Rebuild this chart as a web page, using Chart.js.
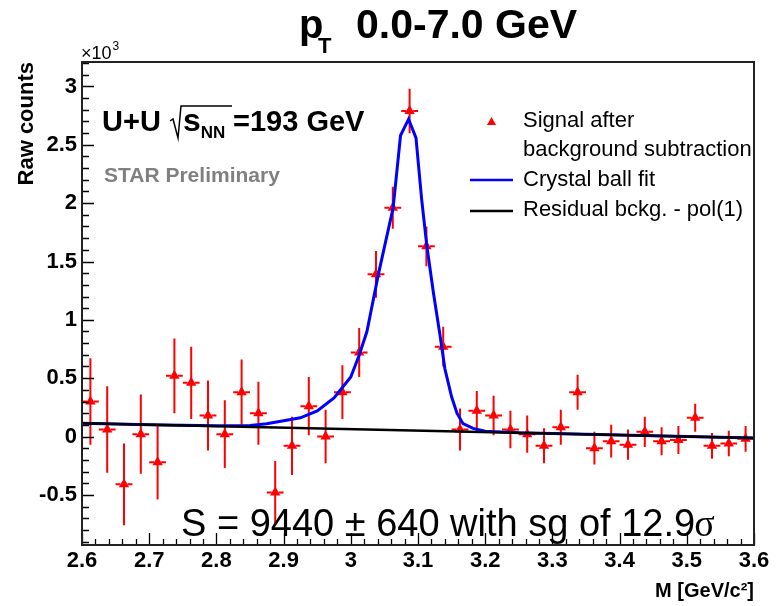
<!DOCTYPE html>
<html>
<head>
<meta charset="utf-8">
<script src="https://cdn.jsdelivr.net/npm/chart.js@4.4.1/dist/chart.umd.min.js"></script>
<style>
  html, body { margin: 0; padding: 0; background: #fff; }
  #wrap { width: 778px; height: 606px; }
</style>
</head>
<body>
<div id="wrap"><canvas id="jpsiChart" width="778" height="606"></canvas></div>
<script>
// invariant mass bin centres [GeV/c^2], bins are 0.025 wide
const massBins = [
  2.6125, 2.6375, 2.6625, 2.6875, 2.7125, 2.7375, 2.7625, 2.7875, 2.8125, 2.8375,
  2.8625, 2.8875, 2.9125, 2.9375, 2.9625, 2.9875, 3.0125, 3.0375, 3.0625, 3.0875,
  3.1125, 3.1375, 3.1625, 3.1875, 3.2125, 3.2375, 3.2625, 3.2875, 3.3125, 3.3375,
  3.3625, 3.3875, 3.4125, 3.4375, 3.4625, 3.4875, 3.5125, 3.5375, 3.5625, 3.5875
];
const binHalfWidth = 0.0125;

// signal after background subtraction (x10^3 counts)
const signalCounts = [
  0.30, 0.06, -0.41, 0.02, -0.22, 0.52, 0.46, 0.18, 0.02, 0.38,
  0.20, -0.48, -0.08, 0.26, 0.00, 0.38, 0.72, 1.39, 1.96, 2.79,
  1.63, 0.77, 0.06, 0.22, 0.18, 0.06, 0.02, -0.08, 0.08, 0.38,
  -0.10, -0.04, -0.07, 0.04, -0.04, -0.03, 0.16, -0.08, -0.06, -0.02
];
const signalErrors = [
  0.37, 0.37, 0.35, 0.34, 0.32, 0.32, 0.31, 0.30, 0.29, 0.28,
  0.27, 0.27, 0.25, 0.25, 0.23, 0.23, 0.21, 0.20, 0.18, 0.19,
  0.17, 0.17, 0.18, 0.17, 0.17, 0.16, 0.16, 0.15, 0.15, 0.15,
  0.14, 0.14, 0.13, 0.13, 0.12, 0.12, 0.12, 0.11, 0.11, 0.11
];

// crystal ball fit curve, sampled
const fitMass = [
  2.60, 2.70, 2.80, 2.85, 2.875, 2.90, 2.925, 2.95, 2.975, 3.00,
  3.012, 3.024, 3.041, 3.063, 3.074, 3.086, 3.097, 3.1055, 3.113, 3.123,
  3.133, 3.140, 3.150, 3.158, 3.167, 3.182, 3.20, 3.25, 3.30, 3.40,
  3.50, 3.60
];
const fitCounts = [
  0.113, 0.101, 0.092, 0.095, 0.11, 0.135, 0.16, 0.22, 0.33, 0.51,
  0.69, 0.90, 1.39, 1.96, 2.58, 2.72, 2.56, 2.03, 1.64, 1.23,
  0.86, 0.58, 0.34, 0.20, 0.11, 0.07, 0.045, 0.032, 0.026, 0.013,
  0.001, -0.012
];

// residual background, pol(1)
const bckgMass = [2.60, 3.60];
const bckgCounts = [0.113, -0.012];

const xTicks = [2.6, 2.7, 2.8, 2.9, 3.0, 3.1, 3.2, 3.3, 3.4, 3.5, 3.6];
const yTicks = [-0.5, 0, 0.5, 1, 1.5, 2, 2.5, 3];

const toPoints = (xs, ys) => xs.map((x, i) => ({ x: x, y: ys[i] }));

const sans = "'Liberation Sans', Arial, sans-serif";
const labelFont = { family: sans, weight: 'bold', size: 22 };

// error bars: drawn under the markers
const errorBars = {
  id: 'errorBars',
  beforeDatasetsDraw(chart) {
    const ctx = chart.ctx;
    const xs = chart.scales.x, ys = chart.scales.y;
    ctx.save();
    ctx.strokeStyle = '#ff0000';
    ctx.lineWidth = 2;
    massBins.forEach((m, i) => {
      const px = xs.getPixelForValue(m);
      const py = ys.getPixelForValue(signalCounts[i]);
      const yHi = ys.getPixelForValue(signalCounts[i] + signalErrors[i]);
      const yLo = ys.getPixelForValue(signalCounts[i] - signalErrors[i]);
      const xL = xs.getPixelForValue(m - binHalfWidth);
      const xR = xs.getPixelForValue(m + binHalfWidth);
      ctx.beginPath();
      ctx.moveTo(px, yHi); ctx.lineTo(px, yLo);
      ctx.moveTo(xL, py); ctx.lineTo(px - 3.5, py);
      ctx.moveTo(px + 3.5, py); ctx.lineTo(xR, py);
      ctx.stroke();
    });
    ctx.restore();
  }
};

// ROOT style frame with inward ticks, plus the text annotations
const frameAndText = {
  id: 'frameAndText',
  afterDraw(chart) {
    const ctx = chart.ctx;
    const a = chart.chartArea;
    const xs = chart.scales.x, ys = chart.scales.y;
    ctx.save();

    // ticks
    ctx.strokeStyle = '#000';
    ctx.lineWidth = 1.3;
    ctx.beginPath();
    for (let k = Math.ceil(ys.min * 10); k <= Math.floor(ys.max * 10); k++) {
      const py = Math.round(ys.getPixelForValue(k / 10)) + 0.5;
      const len = (k % 5 === 0) ? 12 : 7;
      ctx.moveTo(a.left, py); ctx.lineTo(a.left + len, py);
    }
    for (let k = 130; k <= 180; k++) {
      const px = Math.round(xs.getPixelForValue(k * 0.02)) + 0.5;
      const len = (k % 5 === 0) ? 12 : 6;
      ctx.moveTo(px, a.bottom); ctx.lineTo(px, a.bottom - len);
    }
    ctx.stroke();

    // frame
    ctx.strokeStyle = '#222';
    ctx.lineWidth = 2;
    ctx.strokeRect(a.left, a.top, a.right - a.left, a.bottom - a.top);

    ctx.fillStyle = '#000';
    ctx.textBaseline = 'alphabetic';
    ctx.textAlign = 'left';

    // title
    ctx.font = 'bold 40px ' + sans;
    ctx.fillText('p', 299, 38);
    ctx.font = 'bold 22px ' + sans;
    ctx.fillText('T', 318, 53);
    ctx.font = 'bold 41px ' + sans;
    ctx.fillText('0.0-7.0 GeV', 356, 38);

    // axis multiplier
    ctx.font = '18px ' + sans;
    ctx.fillText('\u00d710', 81, 59);
    const mw = ctx.measureText('\u00d710').width;
    ctx.font = '12px ' + sans;
    ctx.fillText('3', 82 + mw, 50);

    // collision system
    ctx.font = 'bold 29px ' + sans;
    ctx.fillText('U+U', 102, 131);
    ctx.fillText('=193 GeV', 233, 131);
    ctx.font = 'bold 32px ' + sans;
    ctx.fillText('s', 183, 131);
    const sw = ctx.measureText('s').width;
    ctx.font = 'bold 17px ' + sans;
    ctx.fillText('NN', 183 + sw, 138);
    ctx.lineWidth = 1.5;
    ctx.strokeStyle = '#000';
    ctx.beginPath();
    ctx.moveTo(170, 121); ctx.lineTo(173, 119);
    ctx.lineTo(178, 138); ctx.lineTo(181, 106); ctx.lineTo(232, 106);
    ctx.stroke();

    ctx.fillStyle = '#808080';
    ctx.font = 'bold 21px ' + sans;
    ctx.fillText('STAR Preliminary', 104, 182);

    // legend
    ctx.fillStyle = '#000';
    ctx.font = '22px ' + sans;
    ctx.fillText('Signal after', 523, 127);
    ctx.fillText('background subtraction', 523, 156);
    ctx.fillText('Crystal ball fit', 523, 186);
    ctx.fillText('Residual bckg. - pol(1)', 523, 216);
    ctx.fillStyle = '#ff0000';
    ctx.beginPath();
    ctx.moveTo(491.5, 117); ctx.lineTo(496, 125); ctx.lineTo(487, 125);
    ctx.closePath();
    ctx.fill();
    ctx.lineWidth = 2.5;
    ctx.strokeStyle = '#0000ff';
    ctx.beginPath(); ctx.moveTo(470, 180); ctx.lineTo(513, 180); ctx.stroke();
    ctx.strokeStyle = '#000';
    ctx.beginPath(); ctx.moveTo(470, 211); ctx.lineTo(513, 211); ctx.stroke();

    // yield
    ctx.fillStyle = '#000';
    ctx.font = '38px ' + sans;
    const yieldText = 'S = 9440 \u00b1 640 with sg of 12.9';
    ctx.fillText(yieldText, 181, 536);
    const w = ctx.measureText(yieldText).width;
    ctx.font = "38px 'Liberation Serif', 'Times New Roman', serif";
    ctx.fillText('\u03c3', 180 + w, 536);

    ctx.restore();
  }
};

const ctx = document.getElementById('jpsiChart').getContext('2d');
const chart = new Chart(ctx, {
  type: 'scatter',
  data: {
    datasets: [
      {
        label: 'Residual bckg. - pol(1)',
        type: 'line',
        data: toPoints(bckgMass, bckgCounts),
        borderColor: '#000000',
        borderWidth: 2.5,
        pointRadius: 0,
        fill: false,
        order: 0
      },
      {
        label: 'Crystal ball fit',
        type: 'line',
        data: toPoints(fitMass, fitCounts),
        borderColor: '#0000ff',
        borderWidth: 3,
        pointRadius: 0,
        tension: 0,
        fill: false,
        order: 1
      },
      {
        label: 'Signal after background subtraction',
        data: toPoints(massBins, signalCounts),
        pointStyle: 'triangle',
        pointRadius: 6,
        backgroundColor: '#ff0000',
        borderColor: '#ff0000',
        borderWidth: 0,
        order: 2
      }
    ]
  },
  options: {
    responsive: false,
    animation: false,
    devicePixelRatio: 1,
    layout: { padding: { left: 0, top: 62, right: 24, bottom: 0 } },
    plugins: { legend: { display: false }, tooltip: { enabled: false } },
    scales: {
      x: {
        type: 'linear',
        min: 2.6,
        max: 3.6,
        afterBuildTicks: s => { s.ticks = xTicks.map(v => ({ value: v })); },
        afterFit: s => { s.height = 61; },
        grid: { display: false, drawTicks: false },
        border: { display: false },
        ticks: {
          padding: 3,
          color: '#000',
          font: labelFont,
          maxRotation: 0,
          autoSkip: false,
          callback: v => String(+v.toFixed(1))
        },
        title: {
          display: true,
          text: 'M [GeV/c\u00b2]',
          align: 'end',
          color: '#000',
          font: { family: sans, weight: 'bold', size: 20 },
          padding: { top: 0, bottom: 3 }
        }
      },
      y: {
        type: 'linear',
        min: -0.93,
        max: 3.21,
        afterBuildTicks: s => { s.ticks = yTicks.map(v => ({ value: v })); },
        afterFit: s => { s.width = 82; },
        grid: { display: false, drawTicks: false },
        border: { display: false },
        ticks: {
          padding: 5,
          color: '#000',
          font: labelFont,
          autoSkip: false,
          callback: v => String(v)
        },
        title: {
          display: true,
          text: 'Raw counts',
          align: 'end',
          color: '#000',
          font: { family: sans, weight: 'bold', size: 22 },
          padding: { top: 14, bottom: 0 }
        }
      }
    }
  },
  plugins: [errorBars, frameAndText]
});
</script>
</body>
</html>
